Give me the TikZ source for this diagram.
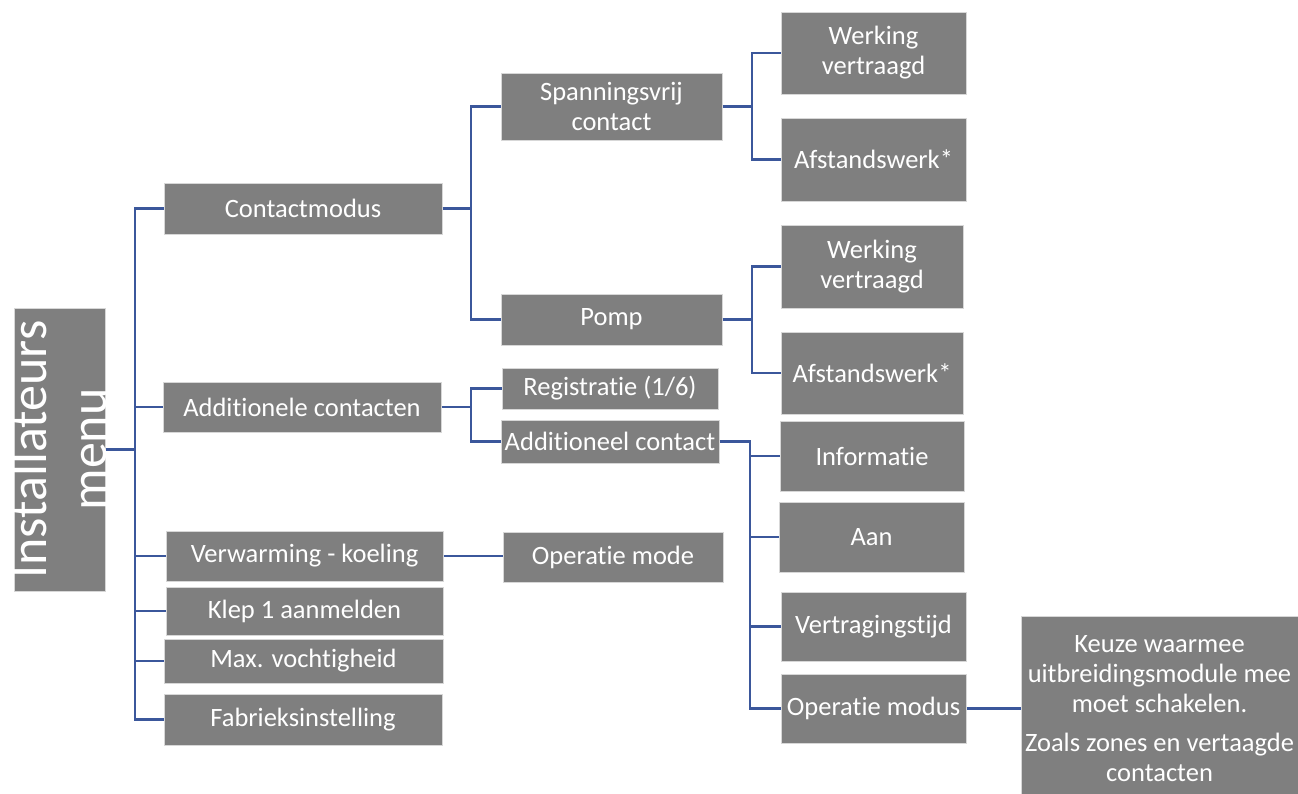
\documentclass[tikz,border=0pt]{standalone}
\usepackage{fontspec}
\setmainfont{Carlito}[Ligatures={NoCommon}]
\definecolor{boxgray}{RGB}{127,127,127}
\definecolor{boxedge}{RGB}{215,215,215}
\definecolor{linkblue}{RGB}{59,87,155}
\begin{document}
\begin{tikzpicture}[x=1pt,y=-1pt,
  box/.style={rectangle, fill=boxgray, draw=boxedge, line width=1pt, inner sep=0pt,
    text=white, align=center, font=\fontsize{26.5}{30}\selectfont},
  conn/.style={draw=linkblue, line width=2.8pt}]
\useasboundingbox (0,0) rectangle (1298,793);
% root
\node[box, rotate=90, minimum width=283, minimum height=91] (root) at (59.5,449.5) {};
\node[rotate=90, text=white, align=center, inner sep=0pt,
  font=\fontsize{52}{60}\selectfont] (rootlabel) at (59,449.5) {Installateurs\\menu};
% level 1
\node[box, minimum width=278, minimum height=51] (cm) at (303,208.5) {Contactmodus};
\node[box, minimum width=278, minimum height=50] (ac) at (302,407) {Additionele contacten};
\node[box, minimum width=277, minimum height=50] (vk) at (304.5,556) {Verwarming - koeling};
\node[box, minimum width=277, minimum height=48] (klep) at (304.5,611) {Klep 1 aanmelden};
\node[box, minimum width=279, minimum height=44] (max) at (303.5,661) {Max. vochtigheid};
\node[box, minimum width=278, minimum height=51] (fab) at (303,719.5) {Fabrieksinstelling};
% level 2
\node[box, minimum width=221, minimum height=67] (sv) at (611.5,106.5) {Spanningsvrij\\contact};
\node[box, minimum width=221, minimum height=51] (pomp) at (611.5,319.5) {Pomp};
\node[box, minimum width=216, minimum height=41] (reg) at (610,388.5) {Registratie (1/6)};
\node[box, minimum width=218, minimum height=43] (adc) at (610,441.5) {Additioneel contact};
\node[box, minimum width=220, minimum height=50] (om) at (613,557) {Operatie mode};
% level 3
\node[box, minimum width=185, minimum height=82] (wv1) at (873.5,53) {Werking\\vertraagd};
\node[box, minimum width=185, minimum height=83] (af1) at (873.5,159.5) {Afstandswerk*};
\node[box, minimum width=182, minimum height=83] (wv2) at (872,266.5) {Werking\\vertraagd};
\node[box, minimum width=182, minimum height=82] (af2) at (872,373) {Afstandswerk*};
\node[box, minimum width=184, minimum height=70] (inf) at (872,456) {Informatie};
\node[box, minimum width=185, minimum height=70] (aan) at (871.5,537) {Aan};
\node[box, minimum width=185, minimum height=69] (vt) at (873.5,626.5) {Vertragingstijd};
\node[box, minimum width=185, minimum height=69] (opm) at (873.5,708.5) {Operatie modus};
% level 4
\node[box, minimum width=277, minimum height=185, font=\fontsize{26.5}{30}\selectfont] (keuze) at (1159.5,708.5)
  {Keuze waarmee\\uitbreidingsmodule mee\\moet schakelen.\\[9pt]Zoals zones en vertaagde\\contacten};
% trunk coordinates
\coordinate (t0) at (135,0);
\coordinate (t1) at (471,0);
\coordinate (t2) at (752,0);
\coordinate (t3) at (750,0);
% connectors from root
\draw[conn] (root.south) -- (root.south -| t0);
\draw[conn] (cm.west) -| (fab.west -| t0) -- (fab.west);
\draw[conn] (ac.west) -- (ac.west -| t0);
\draw[conn] (vk.west) -- (vk.west -| t0);
\draw[conn] (klep.west) -- (klep.west -| t0);
\draw[conn] (max.west) -- (max.west -| t0);
% Contactmodus
\draw[conn] (cm.east) -- (cm.east -| t1);
\draw[conn] (sv.west) -| (pomp.west -| t1) -- (pomp.west);
% Spanningsvrij contact
\draw[conn] (sv.east) -- (sv.east -| t2);
\draw[conn] (wv1.west) -| (af1.west -| t2) -- (af1.west);
% Pomp
\draw[conn] (pomp.east) -- (pomp.east -| t2);
\draw[conn] (wv2.west) -| (af2.west -| t2) -- (af2.west);
% Additionele contacten
\draw[conn] (ac.east) -- (ac.east -| t1);
\draw[conn] (reg.west) -| (adc.west -| t1) -- (adc.west);
% Additioneel contact
\draw[conn] (adc.east) -| (opm.west -| t3) -- (opm.west);
\draw[conn] (inf.west) -- (inf.west -| t3);
\draw[conn] (aan.west) -- (aan.west -| t3);
\draw[conn] (vt.west) -- (vt.west -| t3);
% Verwarming - koeling
\draw[conn] (vk.east) -- (vk.east -| om.west);
% Operatie modus
\draw[conn] (opm.east) -- (opm.east -| keuze.west);
\end{tikzpicture}
\end{document}
